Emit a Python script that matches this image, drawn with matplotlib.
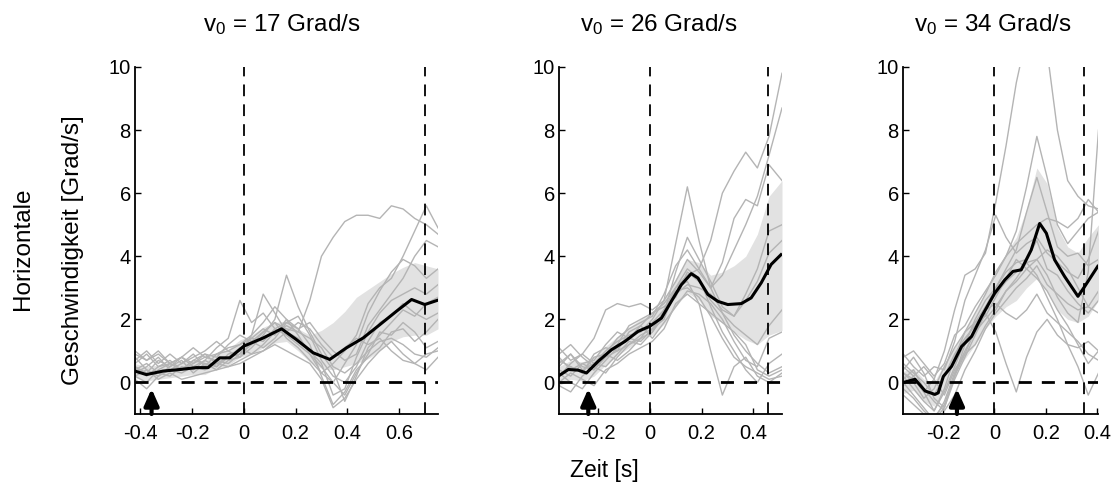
import matplotlib
matplotlib.use("Agg")
import matplotlib.pyplot as plt

plt.rcParams["font.family"] = ["Liberation Sans", "DejaVu Sans"]
plt.rcParams["mathtext.fontset"] = "custom"
plt.rcParams["mathtext.rm"] = "Liberation Sans"
plt.rcParams["mathtext.it"] = "Liberation Sans"

# ── Data ─────────────────────────────────────────────────────────────────────
SPEEDS = [17, 26, 34]            # v0 in Grad/s, one panel each
END_TIMES = [0.70, 0.457, 0.348]  # second vertical dashed marker [s]
ARROW_TIMES = [-0.356, -0.237, -0.146]

# panel 1 (v0 = 17)
P1_T = [-0.42, -0.375, -0.33, -0.285, -0.24, -0.195, -0.15, -0.105, -0.06, -0.015,
        0.03, 0.075, 0.12, 0.165, 0.21, 0.255, 0.30, 0.345, 0.39, 0.435, 0.48,
        0.525, 0.57, 0.615, 0.66, 0.705, 0.75]
P1_TRACES = [
    [0.5, 0.3, 0.7, 0.5, 0.8, 0.6, 0.9, 0.8, 1.2, 1.5, 1.3, 1.6, 1.9, 1.7, 1.6, 2.6, 4.0, 4.6, 5.1, 5.3, 5.3, 5.2, 5.6, 5.5, 5.2, 5.0, 4.7],
    [1.0, 0.7, 0.9, 0.6, 0.4, 0.7, 0.9, 0.6, 0.8, 0.9, 1.2, 1.6, 1.9, 1.4, 1.1, 0.7, 0.3, 0.6, 1.0, 1.5, 2.5, 3.0, 3.3, 4.0, 4.8, 5.6, 4.9],
    [0.2, 0.0, 0.4, 0.6, 0.8, 0.5, 0.7, 1.1, 1.4, 2.6, 1.9, 2.2, 1.7, 1.5, 1.2, 0.9, 0.5, 0.0, 0.6, 1.2, 2.2, 2.9, 3.5, 3.9, 3.7, 3.3, 3.6],
    [0.6, 0.9, 0.5, 0.7, 0.4, 0.6, 0.8, 0.7, 0.6, 0.9, 1.5, 2.8, 2.2, 1.6, 1.4, 1.0, 0.6, -0.4, -0.2, 0.8, 1.6, 2.2, 2.6, 2.8, 3.0, 2.8, 3.1],
    [0.3, 0.5, 0.8, 0.4, 0.6, 0.9, 0.5, 0.9, 1.0, 0.8, 1.1, 1.5, 2.0, 3.4, 2.4, 1.6, 0.9, 0.4, -0.6, 0.2, 1.1, 1.5, 1.9, 2.3, 2.1, 2.5, 2.7],
    [0.8, 0.4, 0.2, 0.5, 0.7, 0.3, 0.6, 0.4, 0.7, 0.8, 1.3, 1.1, 1.4, 1.9, 1.7, 1.2, 0.2, -0.7, -0.3, 0.4, 0.8, 1.1, 1.6, 1.7, 1.3, 1.6, 2.0],
    [0.1, -0.2, 0.2, 0.4, 0.3, 0.5, 0.4, 0.6, 0.5, 0.7, 0.9, 1.2, 1.6, 1.8, 1.6, 1.4, 1.1, 0.5, 0.3, 0.6, 1.0, 1.3, 1.4, 1.2, 0.9, 0.8, 1.1],
    [0.4, 0.6, 0.3, 0.2, 0.5, 0.4, 0.7, 0.5, 0.8, 1.1, 0.9, 1.0, 1.3, 1.6, 1.9, 1.7, 1.2, 0.8, 1.1, 1.4, 1.2, 1.4, 1.0, 0.7, 0.6, 0.9, 1.0],
    [0.7, 1.0, 0.6, 0.9, 0.6, 0.8, 1.0, 1.3, 1.0, 1.2, 1.4, 1.7, 1.5, 2.0, 1.5, 0.9, 0.3, 0.0, -0.4, 0.3, 0.9, 1.6, 1.5, 1.9, 1.6, 1.1, 1.3],
    [0.2, 0.4, 0.1, 0.3, 0.1, 0.2, 0.3, 0.4, 0.5, 0.6, 0.8, 1.0, 1.2, 1.0, 0.8, 0.6, 0.1, -0.8, -0.5, 0.1, 0.6, 1.0, 1.3, 0.9, 0.6, 0.4, 0.8],
    [0.9, 0.7, 1.0, 0.6, 0.8, 1.1, 0.8, 0.9, 1.1, 1.2, 1.5, 1.9, 2.4, 2.0, 1.7, 1.9, 1.4, 1.0, 0.7, 0.9, 1.8, 2.3, 2.8, 3.3, 4.0, 4.5, 4.3],
    [0.5, 0.2, 0.5, 0.6, 0.4, 0.7, 0.6, 0.5, 0.9, 1.0, 1.4, 1.3, 1.7, 1.9, 2.1, 1.5, 0.7, 0.2, 0.0, 0.5, 1.3, 1.9, 2.1, 2.5, 2.2, 2.0, 2.2],
]
P1_BAND_LO = [0.15, 0.05, 0.1, 0.15, 0.2, 0.25, 0.25, 0.45, 0.55, 0.8, 0.9, 1.1, 1.25, 1.3, 1.0, 0.65, 0.45, 0.4, 0.5, 0.6, 0.75, 1.0, 1.3, 1.45, 1.5, 1.5, 1.7]
P1_BAND_HI = [0.6, 0.5, 0.55, 0.6, 0.65, 0.7, 0.7, 0.95, 1.05, 1.35, 1.5, 1.75, 1.9, 1.95, 1.7, 1.5, 1.65, 1.9, 2.25, 2.7, 2.95, 3.2, 3.45, 3.65, 3.8, 3.7, 3.6]
P1_MEAN_T = [-0.42, -0.376, -0.312, -0.247, -0.183, -0.138, -0.093, -0.054, 0.0, 0.075,
             0.146, 0.203, 0.268, 0.332, 0.397, 0.461, 0.525, 0.590, 0.648, 0.699, 0.75]
P1_MEAN = [0.36, 0.25, 0.36, 0.41, 0.47, 0.47, 0.78, 0.78, 1.15, 1.41,
           1.70, 1.36, 0.94, 0.73, 1.10, 1.41, 1.83, 2.26, 2.63, 2.47, 2.61]

# panel 2 (v0 = 26)
P2_T = [-0.35, -0.305, -0.26, -0.215, -0.17, -0.125, -0.08, -0.035, 0.01, 0.055,
        0.10, 0.145, 0.19, 0.235, 0.28, 0.325, 0.37, 0.415, 0.46, 0.51]
P2_TRACES = [
    [0.5, 0.9, 0.4, 0.6, 1.0, 1.3, 1.5, 1.6, 2.0, 2.6, 4.4, 6.2, 4.5, 3.0, 2.2, 1.5, 1.0, 0.6, 0.3, 0.5],
    [0.2, 0.5, 0.3, 0.8, 0.9, 1.2, 1.8, 2.0, 2.2, 2.5, 3.0, 3.4, 3.6, 4.5, 6.0, 6.7, 7.3, 6.8, 7.8, 9.8],
    [0.8, 0.4, 0.6, 0.4, 0.9, 1.4, 1.7, 1.9, 2.1, 2.8, 3.7, 4.2, 3.6, 3.0, 3.4, 4.2, 5.0, 5.9, 7.2, 8.7],
    [1.1, 0.7, 0.9, 1.4, 2.3, 2.5, 2.4, 2.5, 2.3, 2.6, 3.2, 3.9, 3.5, 3.0, 3.8, 5.2, 5.8, 5.6, 6.9, 6.4],
    [0.3, 0.0, -0.2, 0.3, 0.7, 1.1, 1.4, 1.3, 1.7, 2.2, 3.5, 4.6, 3.9, 3.2, 2.4, 2.1, 2.8, 3.6, 4.8, 5.0],
    [-0.1, -0.3, 0.2, 0.5, 0.3, 0.8, 1.2, 1.5, 1.7, 2.0, 3.0, 3.2, 2.5, 1.0, -0.4, 0.5, 0.8, 0.2, 0.0, 0.3],
    [0.6, 0.9, 0.5, 0.4, 0.8, 1.0, 1.2, 1.4, 1.9, 2.3, 2.9, 3.0, 2.7, 2.1, 1.4, 0.8, 0.5, 0.3, 0.1, 0.2],
    [0.4, 0.2, 0.6, 0.7, 1.2, 1.6, 1.4, 1.8, 2.2, 2.4, 2.7, 3.5, 3.2, 2.6, 2.2, 1.8, 1.5, 1.2, 1.8, 2.3],
    [0.9, 1.2, 0.8, 0.5, 0.9, 0.7, 1.0, 1.4, 1.6, 2.1, 2.8, 3.1, 3.0, 2.8, 2.3, 2.1, 2.6, 3.2, 4.1, 4.5],
    [0.2, 0.6, 0.9, 0.6, 0.5, 0.9, 1.3, 1.2, 1.6, 2.3, 3.0, 3.6, 3.3, 2.4, 1.6, 1.0, 0.4, 0.0, 0.6, 0.9],
    [0.7, 0.5, 0.3, 0.9, 1.1, 1.0, 1.6, 1.8, 1.4, 1.9, 2.4, 2.9, 2.8, 2.5, 2.0, 1.3, 0.7, 0.5, 1.4, 1.6],
    [0.0, 0.3, 0.1, -0.1, 0.4, 0.6, 0.9, 1.1, 1.3, 1.7, 2.5, 2.8, 2.5, 2.2, 1.9, 1.6, 1.2, 0.4, 0.2, 0.4],
]
P2_BAND_LO = [-0.1, 0.1, 0.05, 0.2, 0.55, 0.85, 1.1, 1.35, 1.5, 1.85, 2.4, 2.85, 2.6, 2.1, 1.9, 1.6, 1.35, 1.2, 1.5, 1.65]
P2_BAND_HI = [0.5, 0.7, 0.65, 0.8, 1.15, 1.45, 1.75, 2.0, 2.2, 2.65, 3.3, 3.9, 3.8, 3.4, 3.5, 3.7, 4.0, 4.7, 5.9, 6.4]
P2_MEAN_T = [-0.353, -0.314, -0.276, -0.244, -0.199, -0.147, -0.096, -0.045, 0.0, 0.045, 0.083,
             0.122, 0.160, 0.186, 0.224, 0.263, 0.301, 0.353, 0.391, 0.430, 0.468, 0.506]
P2_MEAN = [0.2, 0.41, 0.39, 0.30, 0.67, 1.04, 1.30, 1.62, 1.78, 2.04, 2.57,
           3.10, 3.45, 3.31, 2.79, 2.57, 2.47, 2.50, 2.68, 3.16, 3.74, 4.05]

# panel 3 (v0 = 34)
P3_T = [-0.355, -0.315, -0.275, -0.235, -0.195, -0.155, -0.115, -0.075, -0.035, 0.005,
        0.045, 0.085, 0.125, 0.165, 0.205, 0.245, 0.285, 0.325, 0.365, 0.405]
P3_TRACES = [
    [0.5, 0.2, -0.3, 0.1, 1.0, 2.3, 3.4, 3.6, 4.1, 5.7, 7.5, 9.5, 11.0, 12.0, 10.5, 8.0, 6.4, 5.9, 5.6, 5.5],
    [0.2, -0.2, -0.6, -0.9, -0.2, 0.8, 1.6, 2.2, 2.8, 3.5, 4.0, 4.8, 6.2, 7.8, 6.5, 5.0, 4.4, 4.8, 5.2, 5.4],
    [0.4, 0.8, 0.3, -0.5, -0.8, 0.2, 1.2, 2.0, 2.6, 3.0, 3.6, 4.2, 5.4, 6.5, 5.4, 4.3, 4.0, 4.1, 3.7, 3.9],
    [0.9, 0.5, 0.2, 0.5, 0.4, 1.3, 2.6, 3.4, 4.2, 5.3, 4.6, 4.1, 4.4, 4.6, 4.1, 3.8, 3.5, 3.3, 3.9, 4.8],
    [0.0, -0.4, -0.8, -1.2, -0.6, 0.3, 1.0, 1.6, 2.0, 2.4, 2.9, 3.2, 3.6, 3.9, 3.4, 2.7, 2.2, 1.9, 3.5, 8.0],
    [0.3, 0.1, -0.3, -0.9, -0.3, 0.5, 1.3, 1.9, 2.4, 2.8, 3.2, 3.5, 3.8, 3.4, 2.7, 2.0, 1.2, 0.5, -0.4, 0.3],
    [-0.2, -0.5, -0.9, -1.2, -0.8, 0.1, 0.8, 1.5, 2.2, 1.6, 0.6, -0.3, 0.8, 1.6, 2.0, 1.5, 1.2, 1.1, 1.3, 1.0],
    [0.6, 0.3, 0.0, -0.4, 0.2, 0.9, 1.4, 1.8, 2.3, 2.5, 2.2, 2.0, 2.3, 2.8, 2.2, 1.9, 1.6, 1.3, 0.9, 0.7],
    [0.1, 0.4, -0.2, -0.6, -0.9, -0.4, 0.4, 1.0, 1.7, 2.2, 2.6, 3.0, 3.3, 3.7, 3.1, 2.8, 2.5, 2.3, 2.4, 2.2],
    [-0.4, -0.7, -1.0, -1.1, -0.7, 0.2, 0.9, 1.7, 2.4, 3.0, 3.5, 3.8, 3.9, 4.5, 3.6, 3.4, 2.9, 2.5, 2.2, 2.6],
    [0.8, 1.0, 0.6, 0.2, 0.6, 1.5, 1.8, 2.4, 2.9, 3.4, 4.0, 4.4, 4.7, 5.0, 5.2, 5.1, 4.9, 5.2, 5.8, 5.4],
    [0.3, 0.0, -0.5, -0.2, 0.5, 1.1, 1.6, 1.9, 2.1, 2.7, 3.3, 3.9, 3.6, 3.3, 2.9, 2.3, 1.8, 1.2, 0.6, 1.0],
    [-0.1, 0.2, 0.5, 0.1, -0.4, 0.4, 0.9, 1.2, 1.8, 2.3, 2.9, 3.3, 3.8, 3.9, 4.2, 4.0, 3.6, 3.0, 2.4, 2.9],
]
P3_BAND_LO = [-0.35, -0.25, -0.6, -0.75, -0.2, 0.3, 0.75, 1.2, 1.7, 2.1, 2.4, 2.6, 3.0, 3.3, 2.9, 2.3, 2.0, 1.9, 2.1, 2.6]
P3_BAND_HI = [0.35, 0.45, 0.1, 0.0, 0.6, 1.1, 1.65, 2.2, 2.9, 3.5, 4.1, 4.6, 5.5, 6.8, 6.3, 4.9, 4.3, 4.1, 4.6, 5.0]
P3_MEAN_T = [-0.355, -0.309, -0.270, -0.232, -0.219, -0.199, -0.167, -0.128, -0.089, -0.050, 0.001,
             0.040, 0.072, 0.104, 0.143, 0.176, 0.202, 0.234, 0.273, 0.325, 0.351, 0.402]
P3_MEAN = [0.0, 0.1, -0.27, -0.38, -0.33, 0.19, 0.51, 1.14, 1.46, 2.09, 2.83,
           3.25, 3.52, 3.57, 4.20, 5.04, 4.73, 3.89, 3.36, 2.73, 3.04, 3.68]

# ── Layout (pixel boxes of the reference, 1115 x 490) ────────────────────────
W, H = 1115, 490
AX_BOX = [(135, 438), (559, 782), (903, 1098)]   # left / right pixel of each axes
AX_TOP, AX_BOTTOM = 67, 414
XLIMS = [(-0.42, 0.75), (-0.35, 0.51), (-0.356, 0.403)]
XTICKS = [[-0.4, -0.2, 0, 0.2, 0.4, 0.6], [-0.2, 0, 0.2, 0.4], [-0.2, 0, 0.2, 0.4]]
TITLE_X = [282, 659, 993]

TRACE_C = "#b4b4b4"
BAND_C = "#e2e2e2"

panels = [
    (P1_T, P1_TRACES, P1_BAND_LO, P1_BAND_HI, P1_MEAN_T, P1_MEAN),
    (P2_T, P2_TRACES, P2_BAND_LO, P2_BAND_HI, P2_MEAN_T, P2_MEAN),
    (P3_T, P3_TRACES, P3_BAND_LO, P3_BAND_HI, P3_MEAN_T, P3_MEAN),
]


def fmt_tick(v):
    return "0" if v == 0 else f"{v:g}"


fig = plt.figure(figsize=(W / 100, H / 100), dpi=100)

for i, (t, traces, lo, hi, mt, mv) in enumerate(panels):
    l, r = AX_BOX[i]
    ax = fig.add_axes([l / W, 1 - AX_BOTTOM / H, (r - l) / W, (AX_BOTTOM - AX_TOP) / H])

    ax.fill_between(t, lo, hi, color=BAND_C, lw=0, zorder=1)
    for tr in traces:
        ax.plot(t, tr, color=TRACE_C, lw=1.0, zorder=2)
    ax.plot(mt, mv, color="black", lw=2.2, zorder=4)

    # markers: stimulus onset / end, zero velocity
    for xv in (0, END_TIMES[i]):
        ax.axvline(xv, color="black", lw=1.3, ls=(0, (6.5, 4.5)), zorder=3)
    ax.axhline(0, color="black", lw=2.0, ls=(0, (4.7, 3.6)), zorder=3)

    # arrow marking movement onset
    ax.annotate("", xy=(ARROW_TIMES[i], -0.2), xytext=(ARROW_TIMES[i], -1.0),
                arrowprops=dict(arrowstyle="-|>,head_length=0.45,head_width=0.2",
                                color="black", lw=3.0, mutation_scale=22,
                                shrinkA=0, shrinkB=0),
                zorder=5, annotation_clip=False)

    ax.set_xlim(*XLIMS[i])
    ax.set_ylim(-1, 10)
    ax.set_xticks(XTICKS[i])
    ax.set_xticklabels([fmt_tick(v) for v in XTICKS[i]])
    ax.set_yticks([0, 2, 4, 6, 8, 10])
    for s in ("top", "right"):
        ax.spines[s].set_visible(False)
    for s in ("left", "bottom"):
        ax.spines[s].set_linewidth(1.3)
    ax.tick_params(direction="in", length=4, width=1.0, labelsize=14.5)
    ax.tick_params(axis="x", pad=7)
    ax.tick_params(axis="y", pad=3)

    fig.text(TITLE_X[i] / W, 1 - 25 / H, r"v$_\mathrm{0}$ = %d Grad/s" % SPEEDS[i],
             ha="center", va="center", fontsize=17.5)

fig.text(23 / W, 1 - 249 / H, "Horizontale", rotation=90,
         ha="center", va="center", fontsize=17.5)
fig.text(73 / W, 1 - 250 / H, "Geschwindigkeit [Grad/s]", rotation=90,
         ha="center", va="center", fontsize=17.5)
fig.text(604 / W, 1 - 470 / H, "Zeit [s]", ha="center", va="center", fontsize=16.5)

fig.savefig("out.png", dpi=100)
